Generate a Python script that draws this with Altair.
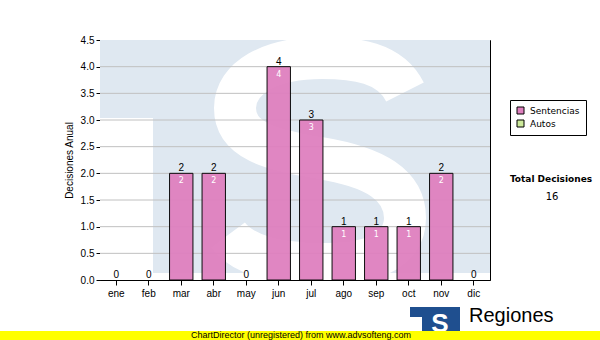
import altair as alt
import pandas as pd

months = ["ene", "feb", "mar", "abr", "may", "jun", "jul", "ago", "sep", "oct", "nov", "dic"]
sentencias = [0, 0, 2, 2, 0, 4, 3, 1, 1, 1, 2, 0]
series = ["Sentencias", "Autos"]
series_colors = ["#df80bf", "#cdea9b"]
grid_values = [0.5, 1.0, 1.5, 2.0, 2.5, 3.0, 3.5, 4.0]
y_ticks = [0.0, 0.5, 1.0, 1.5, 2.0, 2.5, 3.0, 3.5, 4.0, 4.5]
total_label = "Total Decisiones"
total_value = str(sum(sentencias))
footer_text = "ChartDirector (unregistered) from www.advsofteng.com"
logo_text = "Regiones"

df = pd.DataFrame({"mes": months, "valor": sentencias, "serie": "Sentencias"})
one = alt.Data(values=[{}])
WM = "#dfe8f1"
FONT = "Liberation Sans"

# centre line of the watermark "S" (unit square path)
S_PATH = ("M 0.68 -0.544 C 0.56 -0.784 0.28 -0.816 0.016 -0.816 "
          "C -0.4 -0.816 -0.68 -0.656 -0.68 -0.416 "
          "C -0.68 -0.16 -0.4 -0.08 0 -0.016 "
          "C 0.44 0.056 0.68 0.2 0.68 0.464 "
          "C 0.68 0.736 0.4 0.832 0.016 0.832 "
          "C -0.36 0.832 -0.624 0.752 -0.736 0.6")

yscale = alt.Scale(domain=[0, 4.5], nice=False)
yaxis = alt.Axis(values=y_ticks, format=".1f", labelFontSize=10, labelFont=FONT,
                 labelColor="black", tickColor="black", tickSize=4, domainColor="black",
                 labelPadding=2, grid=False, titleFont=FONT, titleFontSize=10,
                 titleFontWeight="normal", titleColor="black", titlePadding=6)
xaxis = alt.Axis(labelAngle=0, labelFontSize=10, labelFont=FONT, labelColor="black",
                 tickColor="black", tickSize=5, domainColor="black", labelPadding=3, grid=False)
xscale = alt.Scale(paddingInner=0.28, paddingOuter=0.14)

xs = alt.X("mes:N", sort=months, title=None, scale=xscale, axis=xaxis)
ys = alt.Y("valor:Q", title="Decisiones Anual", scale=yscale, axis=yaxis)

# watermark (decorative)
wm_blue = alt.Chart(one).mark_rect(color=WM, clip=True).encode(
    x=alt.value(0), x2=alt.value(390), y=alt.value(0), y2=alt.value(233))
wm_cut = alt.Chart(one).mark_rect(color="white", clip=True).encode(
    x=alt.value(0), x2=alt.value(53), y=alt.value(78), y2=alt.value(240))
wm_s = alt.Chart(one).mark_point(shape=S_PATH, filled=False, stroke="white", strokeWidth=42,
                                 strokeCap="butt", opacity=1, clip=True).encode(
    x=alt.value(220), y=alt.value(120), size=alt.value(62500))

grid = alt.Chart(pd.DataFrame({"g": grid_values})).mark_rule(color="#c0c0c0", strokeWidth=1).encode(
    y=alt.Y("g:Q", title="Decisiones Anual", scale=yscale, axis=yaxis))

bars = alt.Chart(df).transform_filter("datum.valor > 0").mark_bar(
    stroke="black", strokeWidth=1, opacity=0.95).encode(
    x=xs, y=ys,
    color=alt.Color("serie:N", scale=alt.Scale(domain=series, range=series_colors),
                    legend=alt.Legend(title=None, orient="none", legendX=410, legendY=60,
                                      symbolType="square", symbolSize=49, symbolStrokeColor="black",
                                      symbolStrokeWidth=1, symbolOpacity=1, labelFontSize=9,
                                      labelFont="DejaVu Sans", labelColor="black", labelOffset=5,
                                      rowPadding=2, padding=6, strokeColor="black", fillColor="white")))

top_labels = alt.Chart(df).mark_text(fontSize=10, font=FONT, color="black", baseline="alphabetic", dy=-2).encode(
    x=xs, y=ys, text="valor:Q")
in_labels = alt.Chart(df).transform_filter("datum.valor > 0").mark_text(
    fontSize=8, font="DejaVu Sans", color="white", baseline="alphabetic", dy=10).encode(
    x=xs, y=ys, text="valor:Q")

tot1 = alt.Chart(one).mark_text(fontSize=9, font="DejaVu Sans", fontWeight="bold", color="black",
                                align="center", baseline="alphabetic").encode(
    x=alt.value(451), y=alt.value(142), text=alt.value(total_label))
tot2 = alt.Chart(one).mark_text(fontSize=10, font="DejaVu Sans", color="black",
                                align="center", baseline="alphabetic").encode(
    x=alt.value(452), y=alt.value(160), text=alt.value(total_value))

logo_bg = alt.Chart(one).mark_rect(color="#1f4f8f").encode(
    x=alt.value(310), x2=alt.value(360), y=alt.value(267), y2=alt.value(291))
logo_cut = alt.Chart(one).mark_rect(color="white").encode(
    x=alt.value(310), x2=alt.value(322), y=alt.value(277), y2=alt.value(291))
logo_s = alt.Chart(one).mark_text(color="white", font=FONT, fontWeight="bold", fontSize=26,
                                  align="center", baseline="alphabetic").encode(
    x=alt.value(340), y=alt.value(292), text=alt.value("S"))
logo_t = alt.Chart(one).mark_text(color="black", font=FONT, fontSize=20,
                                  align="left", baseline="alphabetic").encode(
    x=alt.value(369), y=alt.value(282), text=alt.value(logo_text))

footer_bg = alt.Chart(one).mark_rect(color="#ffff00").encode(
    x=alt.value(-100), x2=alt.value(500), y=alt.value(291), y2=alt.value(300))
footer_t = alt.Chart(one).mark_text(color="black", font=FONT, fontSize=9,
                                    align="center", baseline="alphabetic").encode(
    x=alt.value(201), y=alt.value(297.5), text=alt.value(footer_text))

chart = alt.layer(
    wm_blue, wm_cut, wm_s, grid, bars, top_labels, in_labels, tot1, tot2,
    logo_bg, logo_cut, logo_s, logo_t, footer_bg, footer_t
).properties(
    width=390, height=240,
    autosize=alt.AutoSizeParams(type="none"),
    padding={"left": 100, "top": 40, "right": 110, "bottom": 60},
    background="white",
).configure_view(stroke="black", strokeWidth=1)

chart.save("out.html", embed_options={"renderer": "svg", "actions": False})
